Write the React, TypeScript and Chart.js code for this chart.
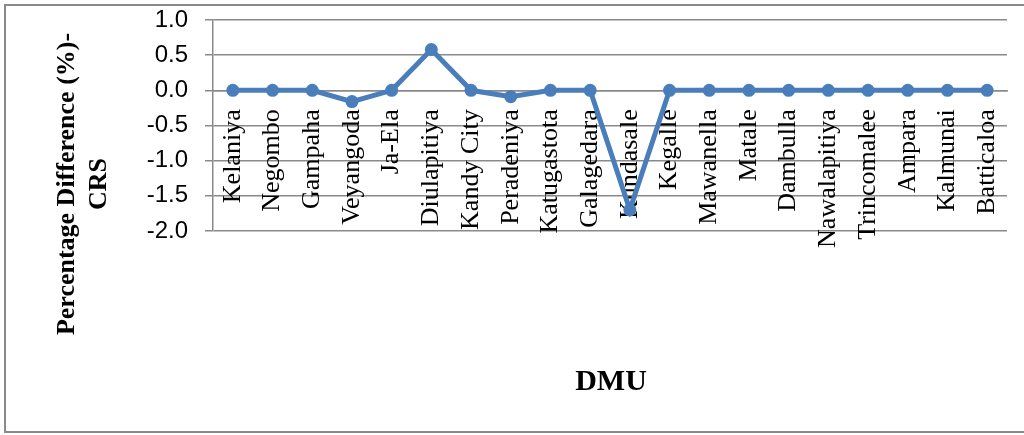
import React, { useEffect, useRef } from "react";
import { Chart, registerables } from "chart.js";

Chart.register(...registerables);

// Decision-making units along the category axis
const dmus: string[] = [
  "Kelaniya",
  "Negombo",
  "Gampaha",
  "Veyangoda",
  "Ja-Ela",
  "Diulapitiya",
  "Kandy City",
  "Peradeniya",
  "Katugastota",
  "Galagedara",
  "Kundasale",
  "Kegalle",
  "Mawanella",
  "Matale",
  "Dambulla",
  "Nawalapitiya",
  "Trincomalee",
  "Ampara",
  "Kalmunai",
  "Batticaloa",
];

// Percentage difference (%) under CRS for each DMU
const pctDiffCRS: number[] = [
  0, 0, 0, -0.16, 0, 0.58, 0, -0.09, 0, 0, -1.7, 0, 0, 0, 0, 0, 0, 0, 0, 0,
];

// Value axis range and tick step
const yMin = -2.0;
const yMax = 1.0;
const yStep = 0.5;

const yTitleLines: string[] = ["Percentage Difference (%)-", "CRS"];
const xTitle = "DMU";

const lineBlue = "#4A7EBB";
const gridGray = "#8A8A8A";

// Keep the axes from reserving extra edge padding so the layout padding rules
const zeroPadding = (scale: any) => {
  scale.paddingLeft = 0;
  scale.paddingRight = 0;
  scale.paddingTop = 0;
  scale.paddingBottom = 0;
};

// Frame around the chart plus the axis titles
const framePlugin = {
  id: "frameAndTitles",
  beforeDraw(chart: Chart) {
    const ctx = chart.ctx;
    ctx.save();
    ctx.fillStyle = "#ffffff";
    ctx.fillRect(0, 0, chart.width, chart.height);
    ctx.strokeStyle = "#8A8A8A";
    ctx.lineWidth = 2;
    ctx.strokeRect(5, 5, chart.width + 20, chart.height - 8);
    ctx.restore();
  },
  afterDraw(chart: Chart) {
    const ctx = chart.ctx;
    ctx.save();
    ctx.fillStyle = "#000000";
    // vertical value-axis title, two lines
    ctx.font = 'bold 26px "Liberation Serif"';
    ctx.textAlign = "center";
    ctx.textBaseline = "middle";
    ctx.translate(67, 184);
    ctx.rotate(-Math.PI / 2);
    yTitleLines.forEach((line, i) => {
      ctx.fillText(line, 0, i * 32);
    });
    ctx.restore();

    ctx.save();
    ctx.fillStyle = "#000000";
    ctx.font = 'bold 30px "Liberation Serif"';
    ctx.textAlign = "center";
    ctx.textBaseline = "alphabetic";
    ctx.fillText(xTitle, 611, 390);
    ctx.restore();
  },
};

export default function App() {
  const canvasRef = useRef<HTMLCanvasElement | null>(null);

  useEffect(() => {
    if (!canvasRef.current) return;
    const chart = new Chart(canvasRef.current, {
      type: "line",
      data: {
        labels: dmus,
        datasets: [
          {
            data: pctDiffCRS,
            borderColor: lineBlue,
            backgroundColor: lineBlue,
            borderWidth: 5,
            pointRadius: 6.5,
            pointBackgroundColor: lineBlue,
            pointBorderWidth: 0,
            tension: 0,
          },
          {
            // small dark centre dot on each marker
            data: pctDiffCRS,
            showLine: false,
            pointRadius: 1.1,
            pointBackgroundColor: "#1A2A40",
            pointBorderWidth: 0,
          },
        ],
      },
      options: {
        responsive: false,
        animation: false,
        layout: { padding: { left: 0, right: 17, top: 20, bottom: 204 } },
        plugins: {
          legend: { display: false },
          tooltip: { enabled: false },
        },
        scales: {
          x: {
            position: { y: 0 },
            offset: true,
            afterFit: zeroPadding,
            grid: { display: false, drawTicks: false },
            border: { display: true, color: gridGray, width: 1.5 },
            ticks: {
              autoSkip: false,
              minRotation: 90,
              maxRotation: 90,
              padding: 19,
              color: "#000000",
              font: { family: '"Liberation Serif"', size: 26 },
            },
          },
          y: {
            min: yMin,
            max: yMax,
            afterFit: (scale: any) => {
              scale.width = 213;
              zeroPadding(scale);
            },
            grid: {
              color: gridGray,
              lineWidth: 1.5,
              tickLength: 8,
            },
            border: { display: true, color: gridGray, width: 1.5 },
            ticks: {
              stepSize: yStep,
              padding: 17,
              color: "#000000",
              font: { family: '"Liberation Sans"', size: 24 },
              callback: (v: any) => Number(v).toFixed(1),
            },
          },
        },
      },
      plugins: [framePlugin],
    });
    return () => chart.destroy();
  }, []);

  return (
    <div
      style={{
        position: "absolute",
        left: 0,
        top: 0,
        width: 1024,
        height: 435,
        overflow: "hidden",
      }}
    >
      <canvas
        ref={canvasRef}
        width={1024}
        height={435}
        style={{ width: 1024, height: 435, display: "block" }}
      />
    </div>
  );
}
